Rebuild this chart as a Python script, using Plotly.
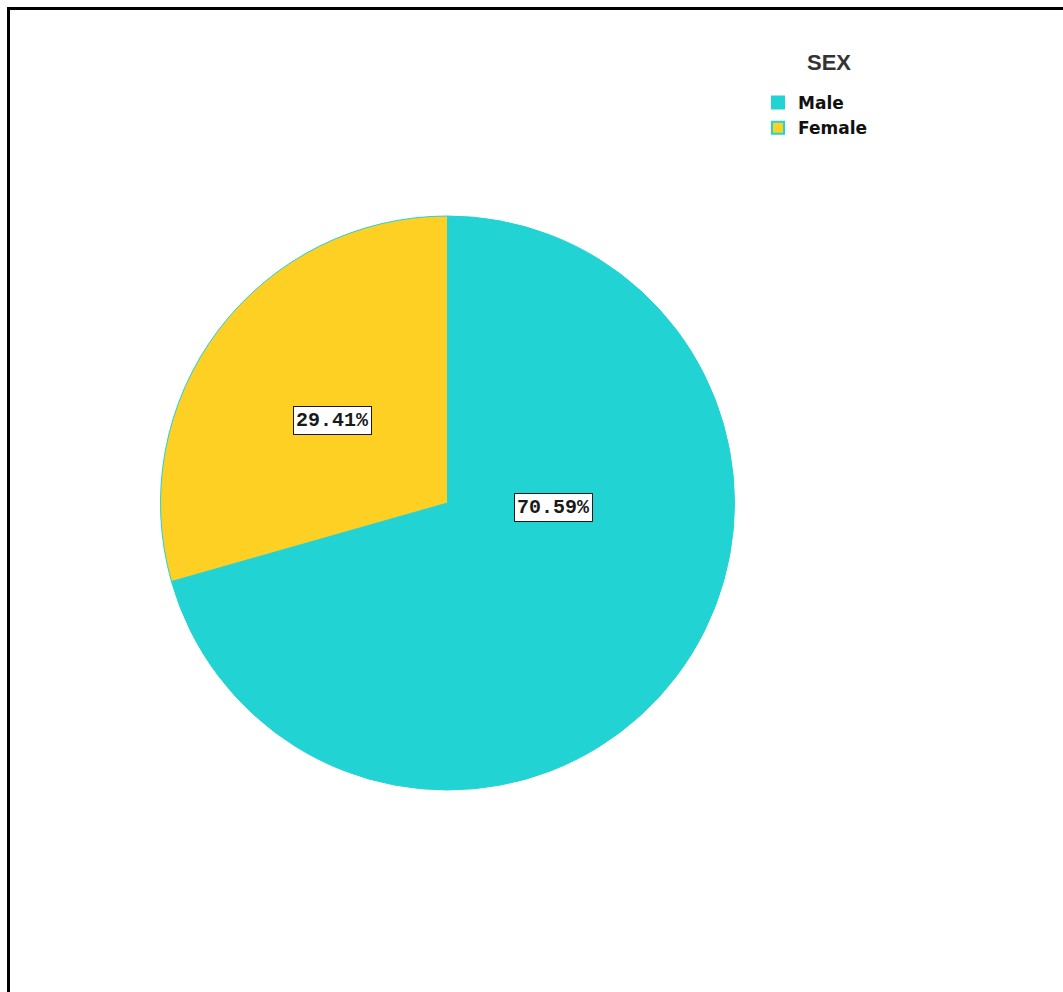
import plotly.graph_objects as go

categories = ["Male", "Female"]
values = [70.59, 29.41]
colors = ["#22D3D3", "#FFD024"]
label_texts = ["70.59%", "29.41%"]
legend_title = "SEX"

W, H = 1063, 992

fig = go.Figure()
fig.add_trace(go.Pie(
    labels=categories,
    values=values,
    sort=False,
    direction="clockwise",
    rotation=0,
    marker=dict(colors=colors, line=dict(color="#22D3D3", width=1)),
    textinfo="none",
    hoverinfo="label+percent",
    domain=dict(x=[(447.5 - 289) / W, (447.5 + 289) / W],
                y=[1 - (503 + 287) / H, 1 - (503 - 287) / H]),
))

# label boxes (positions in pixels)
label_pos = {"70.59%": (553, 507), "29.41%": (332, 421)}
for t in label_texts:
    px, py = label_pos[t]
    fig.add_annotation(
        x=px / W, y=1 - py / H, xref="paper", yref="paper",
        text="<b>" + t + "</b>", showarrow=False,
        font=dict(family="Liberation Mono, DejaVu Sans Mono, monospace", size=20, color="#1a1a1a"),
        bgcolor="white", bordercolor="#1a1a1a", borderwidth=1, borderpad=2,
        xanchor="center", yanchor="middle",
    )

# legend title
fig.add_annotation(
    x=829 / W, y=1 - 62 / H, xref="paper", yref="paper",
    text="<b>" + legend_title + "</b>", showarrow=False,
    font=dict(family="Liberation Sans, Arial, sans-serif", size=22, color="#333333"),
    xanchor="center", yanchor="middle",
)

# frame lines
fig.add_shape(type="line", xref="paper", yref="paper",
              x0=7 / W, x1=1, y0=1 - 8.5 / H, y1=1 - 8.5 / H,
              line=dict(color="black", width=3))
fig.add_shape(type="line", xref="paper", yref="paper",
              x0=8.5 / W, x1=8.5 / W, y0=0, y1=1 - 7 / H,
              line=dict(color="black", width=3))

fig.update_layout(
    width=W, height=H,
    margin=dict(l=0, r=0, t=0, b=0),
    paper_bgcolor="white",
    plot_bgcolor="white",
    showlegend=True,
    legend=dict(
        x=758 / W, y=1 - 85 / H, xanchor="left", yanchor="top",
        font=dict(family="DejaVu Sans, sans-serif", size=17, color="#111111", weight="bold"),
        bgcolor="rgba(0,0,0,0)",
        itemsizing="constant",
        tracegroupgap=0,
    ),
)

fig.write_html("out.html")
